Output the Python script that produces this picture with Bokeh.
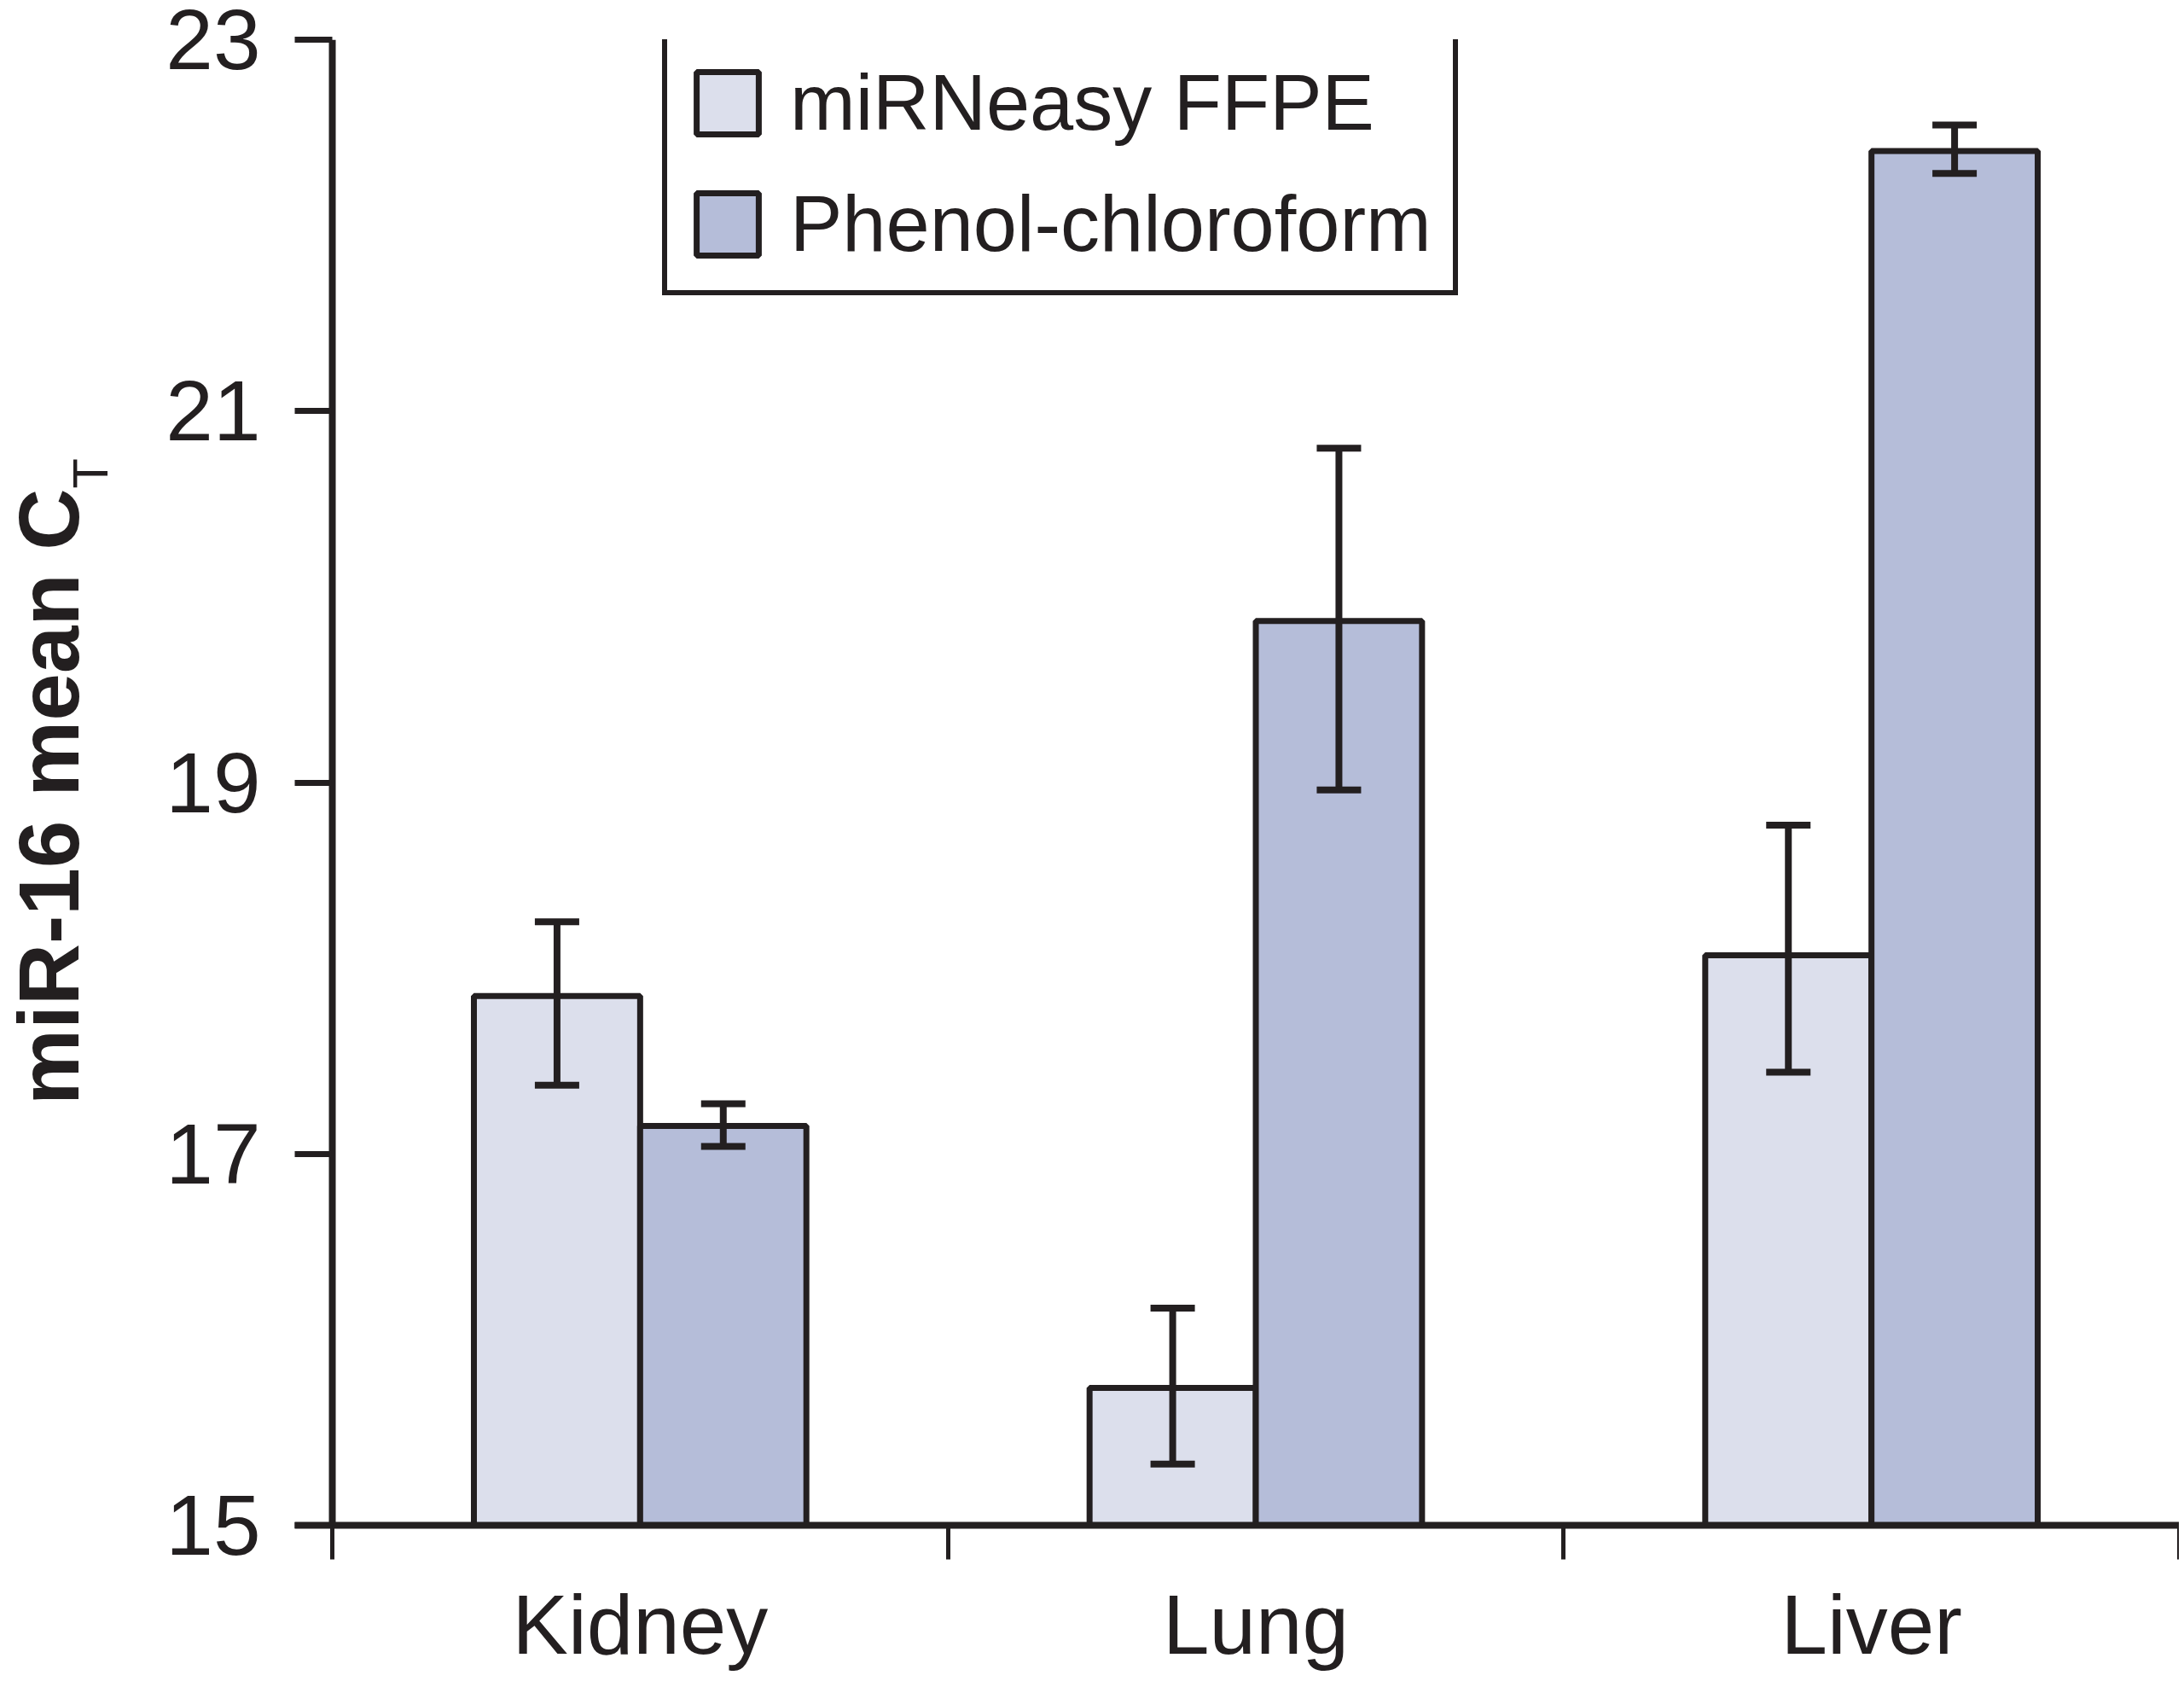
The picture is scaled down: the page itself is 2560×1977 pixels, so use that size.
from bokeh.plotting import figure
from bokeh.layouts import row
from bokeh.models import (Range1d, FixedTicker, Span, Legend, LegendItem,
                          Whisker, TeeHead, ColumnDataSource, Div)
from bokeh.embed import file_html
from bokeh.resources import INLINE

# ---- data ----
categories = ["Kidney", "Lung", "Liver"]
series = ["miRNeasy FFPE", "Phenol-chloroform"]
ffpe_mean = [17.85, 15.74, 18.07]
ffpe_lower = [17.37, 15.33, 17.44]
ffpe_upper = [18.25, 16.17, 18.77]
pc_mean = [17.15, 19.87, 22.40]
pc_lower = [17.04, 18.96, 22.28]
pc_upper = [17.27, 20.80, 22.54]
y_ticks = [15, 17, 19, 21, 23]
y_title = "miR-16 mean C"
y_title_sub = "T"

# ---- style ----
INK = "#231f20"
FFPE_COLOR = "#dcdfec"
PC_COLOR = "#b5bdd9"
FONT = "Liberation Sans"
BAR_W = 0.27
TOTAL_W, TOTAL_H = 2544, 1969
TITLE_W = 160

n = len(categories)
centers = [i + 0.5 for i in range(n)]
ffpe_x = [c - BAR_W / 2 for c in centers]
pc_x = [c + BAR_W / 2 for c in centers]

src_ffpe = ColumnDataSource(dict(x=ffpe_x, top=ffpe_mean, lower=ffpe_lower, upper=ffpe_upper))
src_pc = ColumnDataSource(dict(x=pc_x, top=pc_mean, lower=pc_lower, upper=pc_upper))

# ---- rotated y-axis title (HTML text, rotated with CSS) ----
title_html = (
    '<div style="position:absolute; left:2px; top:1290px; transform:rotate(-90deg); '
    'transform-origin:0 0; white-space:nowrap; font-family:\'Liberation Sans\'; '
    'font-weight:bold; font-size:100px; line-height:100px; color:%s;">%s'
    '<span style="font-weight:normal; font-size:58px; position:relative; top:34px;">%s</span>'
    '</div>' % (INK, y_title, y_title_sub)
)
title_div = Div(text=title_html, width=TITLE_W, height=TOTAL_H,
                styles={"overflow": "visible", "position": "relative"})

# ---- main chart ----
p = figure(width=TOTAL_W - TITLE_W, height=TOTAL_H,
           x_range=Range1d(-0.061, n), y_range=Range1d(y_ticks[0], y_ticks[-1]),
           output_backend="svg", toolbar_location=None,
           min_border_left=335 - TITLE_W, min_border_right=0,
           min_border_top=46, min_border_bottom=182)
p.grid.visible = False
p.outline_line_color = None
p.background_fill_color = "white"
p.border_fill_color = "white"

r1 = p.vbar(x="x", top="top", bottom=y_ticks[0], width=BAR_W, source=src_ffpe,
            fill_color=FFPE_COLOR, line_color=INK, line_width=7)
r2 = p.vbar(x="x", top="top", bottom=y_ticks[0], width=BAR_W, source=src_pc,
            fill_color=PC_COLOR, line_color=INK, line_width=7)

legend = Legend(items=[LegendItem(label=series[0], renderers=[r1]),
                       LegendItem(label=series[1], renderers=[r2])],
                location=(431, 1441), orientation="vertical",
                border_line_color=INK, border_line_width=6, border_line_alpha=1.0,
                background_fill_color="white", background_fill_alpha=1.0,
                padding=25, spacing=37, margin=0,
                glyph_width=91, glyph_height=91, label_height=104,
                label_standoff=28,
                label_text_font=FONT, label_text_font_size="92px", label_text_color=INK)
p.add_layout(legend)

for src in (src_ffpe, src_pc):
    w = Whisker(base="x", upper="upper", lower="lower", source=src, dimension="height",
                line_color=INK, line_width=8,
                upper_head=TeeHead(size=52, line_color=INK, line_width=8),
                lower_head=TeeHead(size=52, line_color=INK, line_width=8))
    w.level = "annotation"
    p.add_layout(w)

# visible y axis line at x = 0
p.add_layout(Span(location=0, dimension="height", line_color=INK, line_width=8))

# y axis
ya = p.yaxis[0]
ya.ticker = FixedTicker(ticks=y_ticks)
ya.axis_line_color = None
ya.major_tick_in = 44
ya.major_tick_out = 0
ya.major_tick_line_width = 7
ya.major_tick_line_color = INK
ya.minor_tick_line_color = None
ya.major_label_standoff = 40
ya.major_label_text_font = FONT
ya.major_label_text_font_size = "100px"
ya.major_label_text_color = INK

# x axis: ticks at group boundaries, labels at group centres
xa = p.xaxis[0]
xa.ticker = FixedTicker(ticks=centers, minor_ticks=list(range(n + 1)))
xa.major_label_overrides = {c: lab for c, lab in zip(centers, categories)}
xa.axis_line_width = 8
xa.axis_line_color = INK
xa.major_tick_in = 0
xa.major_tick_out = 0
xa.minor_tick_in = 0
xa.minor_tick_out = 40
xa.minor_tick_line_width = 5
xa.minor_tick_line_color = INK
xa.major_label_standoff = 21
xa.major_label_text_font = FONT
xa.major_label_text_font_size = "98px"
xa.major_label_text_color = INK

layout = row(title_div, p)
open("out.html", "w").write(file_html(layout, INLINE))
